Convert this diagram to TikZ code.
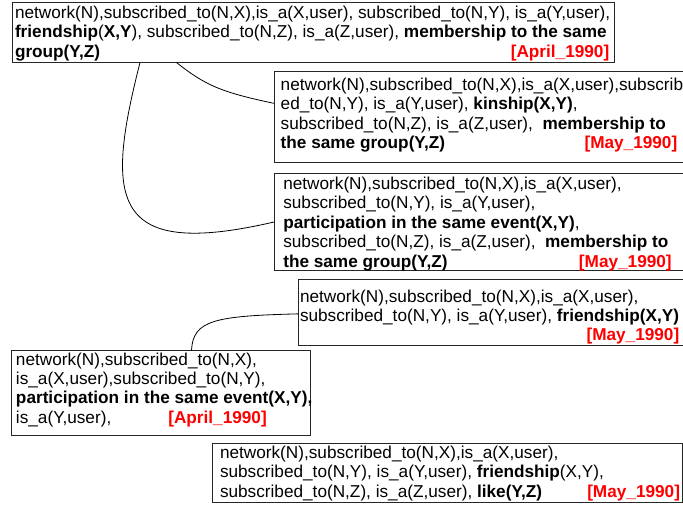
\documentclass[tikz,border=0pt]{standalone}
\usepackage{fontspec}
\setmainfont{Liberation Sans}
\usepackage{xcolor}
\newcommand\boxtxt[5]{\parbox[b][#2][t]{#1}{\setlength\leftskip{#3}\rule{0pt}{#4}#5}}
\newcommand\dt[1]{\textcolor{red}{\textbf{[#1\_1990]}}}
\tikzset{
  bx/.style={draw=black!85, line width=0.9pt, rectangle, anchor=north west,
    inner sep=0pt, outer sep=0pt, font=\fontsize{17.2pt}{19.4pt}\selectfont},
  conn/.style={draw=black, line width=0.8pt}
}
\begin{document}
\begin{tikzpicture}[x=1pt,y=-1pt]
\useasboundingbox (0,0) rectangle (683,508);
\clip (0,0) rectangle (683,508);
\fill[white] (0,0) rectangle (683,508);

\node[bx] (b1) at (12,2) {\boxtxt{602pt}{60.5pt}{3pt}{16.5pt}{%
\mbox{network(N),subscribed\_to(N,X),is\_a(X,user), subscribed\_to(N,Y), is\_a(Y,user),}\\
\mbox{\textbf{friendship}(\textbf{X,Y}), subscribed\_to(N,Z), is\_a(Z,user), \textbf{membership to the same}}\\
\makebox[594.3pt][l]{\textbf{group(Y,Z)}\hfill\dt{April}}}};

\node[bx] (b2) at (274,71.5) {\boxtxt{416pt}{90.5pt}{6.7pt}{18.8pt}{%
\mbox{network(N),subscribed\_to(N,X),is\_a(X,user),subscrib}\\
\mbox{ed\_to(N,Y), is\_a(Y,user), \textbf{kinship(X,Y)},}\\
\mbox{subscribed\_to(N,Z), is\_a(Z,user),\ \ \textbf{membership to}}\\
\makebox[396.6pt][l]{\textbf{the same group(Y,Z)}\hfill\dt{May}}}};

\node[bx] (b3) at (274,173.3) {\boxtxt{416pt}{97.4pt}{9.3pt}{16.2pt}{%
\mbox{network(N),subscribed\_to(N,X),is\_a(X,user),}\\
\mbox{subscribed\_to(N,Y), is\_a(Y,user),}\\
\mbox{\textbf{participation in the same event(X,Y)},}\\
\mbox{subscribed\_to(N,Z), is\_a(Z,user),\ \ \textbf{membership to}}\\
\makebox[388.4pt][l]{\textbf{the same group(Y,Z)}\hfill\dt{May}}}};

\node[bx] (b4) at (298.3,279) {\boxtxt{384.7pt}{66.7pt}{1.7pt}{23pt}{%
\mbox{network(N),subscribed\_to(N,X),is\_a(X,user),}\\
\mbox{subscribed\_to(N,Y), is\_a(Y,user), \textbf{friendship(X,Y)}}\\
\makebox[379.3pt][r]{\dt{May}}}};

\node[bx] (b5) at (11.7,350.3) {\boxtxt{298.3pt}{85.4pt}{4.3pt}{14.7pt}{%
\mbox{network(N),subscribed\_to(N,X),}\\
\mbox{is\_a(X,user),subscribed\_to(N,Y),}\\
\mbox{\textbf{participation in the same event(X,Y),}}\\
\makebox[152.3pt][l]{is\_a(Y,user),}\dt{April}}};

\node[bx] (b6) at (212.3,443) {\boxtxt{470.5pt}{59pt}{7.7pt}{15.5pt}{%
\mbox{network(N),subscribed\_to(N,X),is\_a(X,user),}\\
\mbox{subscribed\_to(N,Y), is\_a(Y,user), \textbf{friendship}(X,Y),}\\
\makebox[460pt][l]{subscribed\_to(N,Z), is\_a(Z,user), \textbf{like(Y,Z)}\hfill\dt{May}}}};

\draw[conn] ([xshift=128pt]b1.south west) .. controls (105,200) and (110,260) .. (b3.west);
\draw[conn] ([xshift=164.5pt]b1.south west) .. controls (205,85) and (220,92) .. ([yshift=13.4pt]b2.west);
\draw[conn] ([xshift=179.8pt]b5.north west) .. controls (193,320) and (215,316) .. ([yshift=-1.5pt]b4.west);
\end{tikzpicture}
\end{document}
